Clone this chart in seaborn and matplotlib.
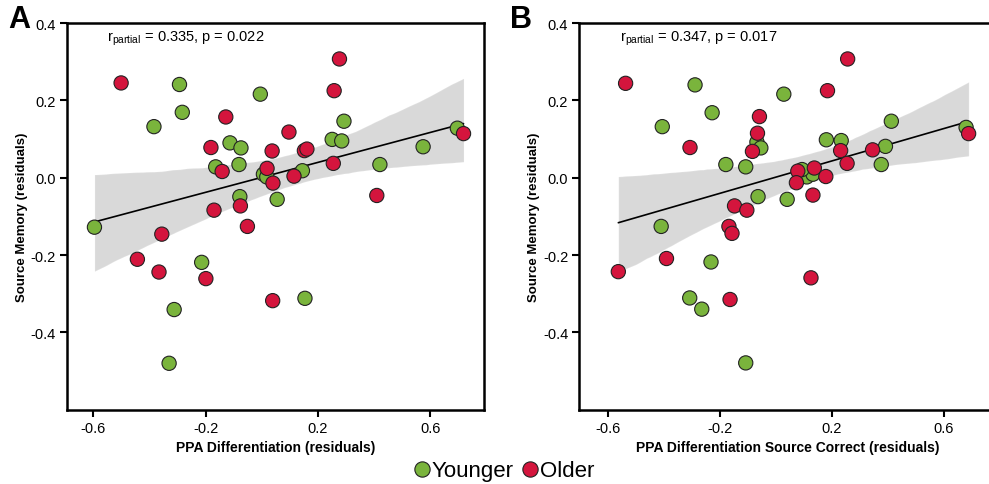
import numpy as np
import pandas as pd
import matplotlib
matplotlib.use("Agg")
import matplotlib.pyplot as plt
from matplotlib.lines import Line2D
import seaborn as sns

# ---------------- data ----------------
# Panel A: PPA Differentiation (residuals) vs Source Memory (residuals)
a_young_x = [-0.293, -0.005, -0.283, -0.384, 0.293, 0.251, 0.285, 0.697, 0.575, -0.113,
             -0.074, -0.081, -0.164, 0.006, 0.018, 0.145, 0.421, 0.055, -0.078, -0.596,
             -0.214, -0.312, 0.154, -0.330]
a_young_y = [0.241, 0.216, 0.169, 0.132, 0.146, 0.099, 0.095, 0.128, 0.080, 0.090,
             0.077, 0.034, 0.028, 0.009, 0.002, 0.018, 0.034, -0.056, -0.049, -0.128,
             -0.219, -0.341, -0.312, -0.480]
a_old_x = [-0.501, 0.277, 0.258, -0.128, 0.097, -0.181, 0.037, 0.152, 0.161, 0.255,
           -0.141, 0.019, 0.040, 0.115, 0.719, 0.410, -0.076, -0.170, -0.051, -0.356,
           -0.443, -0.366, -0.199, 0.039]
a_old_y = [0.245, 0.307, 0.225, 0.157, 0.118, 0.078, 0.069, 0.070, 0.074, 0.037,
           0.016, 0.024, -0.014, 0.004, 0.114, -0.046, -0.073, -0.084, -0.126, -0.146,
           -0.211, -0.244, -0.261, -0.318]

# Panel B: PPA Differentiation Source Correct (residuals) vs Source Memory (residuals)
b_young_x = [-0.288, 0.029, -0.227, -0.405, 0.413, 0.181, 0.234, 0.680, 0.392, -0.067,
             -0.053, -0.178, -0.107, 0.377, 0.111, 0.133, 0.094, -0.063, 0.041, -0.409,
             -0.231, -0.307, -0.264, -0.107]
b_young_y = [0.240, 0.216, 0.168, 0.132, 0.146, 0.098, 0.096, 0.130, 0.081, 0.092,
             0.077, 0.034, 0.028, 0.034, 0.002, 0.009, 0.021, -0.049, -0.056, -0.126,
             -0.218, -0.311, -0.340, -0.479]
b_old_x = [-0.536, 0.257, 0.185, -0.058, -0.065, -0.306, -0.083, 0.232, 0.346, 0.689,
           0.255, 0.079, 0.138, 0.179, 0.074, 0.133, -0.147, -0.103, -0.167, -0.156,
           -0.390, -0.562, 0.126, -0.163]
b_old_y = [0.244, 0.307, 0.225, 0.158, 0.115, 0.078, 0.068, 0.070, 0.072, 0.114,
           0.037, 0.017, 0.025, 0.003, -0.013, -0.045, -0.073, -0.084, -0.126, -0.144,
           -0.209, -0.243, -0.259, -0.315]

groups = ["Younger", "Older"]
x_ticks = [-0.6, -0.2, 0.2, 0.6]
y_ticks = [-0.4, -0.2, 0.0, 0.2, 0.4]
stats_text = ["0.335, p = 0.022", "0.347, p = 0.017"]
x_labels = ["PPA Differentiation (residuals)",
            "PPA Differentiation Source Correct (residuals)"]
y_label = "Source Memory (residuals)"
panel_letters = ["A", "B"]

GREEN = "#7ab43c"
RED = "#d4153d"
palette = {"Younger": GREEN, "Older": RED}

def make_df(yx, yy, ox, oy):
    return pd.DataFrame({
        "x": list(yx) + list(ox),
        "y": list(yy) + list(oy),
        "group": ["Younger"] * len(yx) + ["Older"] * len(ox),
    })

dfs = [make_df(a_young_x, a_young_y, a_old_x, a_old_y),
       make_df(b_young_x, b_young_y, b_old_x, b_old_y)]

sns.set_theme(style="ticks")
plt.rcParams["font.family"] = ["Liberation Sans", "DejaVu Sans"]
plt.rcParams["text.color"] = "black"
plt.rcParams["axes.labelcolor"] = "black"
plt.rcParams["xtick.color"] = "black"
plt.rcParams["ytick.color"] = "black"
plt.rcParams["xtick.labelcolor"] = "black"
plt.rcParams["ytick.labelcolor"] = "black"

fig = plt.figure(figsize=(9.89, 4.85), dpi=100)
axes = [fig.add_axes([0.0674, 0.1532, 0.422, 0.7973]),
        fig.add_axes([0.5857, 0.1532, 0.422, 0.7973])]
xlims = [(-0.695, 0.792), (-0.7015, 0.789)]

for i, (ax, df) in enumerate(zip(axes, dfs)):
    sns.regplot(data=df, x="x", y="y", ax=ax, scatter=False, ci=95, seed=3,
                n_boot=2000, color="black", line_kws={"lw": 1.2, "color": "black"})
    sns.scatterplot(data=df, x="x", y="y", hue="group", hue_order=groups,
                    palette=palette, s=105, edgecolor="#222222", linewidth=0.8,
                    ax=ax, legend=False, zorder=3)
    ax.set_xlim(*xlims[i])
    ax.set_ylim(-0.6, 0.4)
    ax.set_xticks(x_ticks)
    ax.set_xticklabels([f"{t:.1f}" for t in x_ticks])
    ax.set_yticks(y_ticks)
    ax.set_yticklabels([f"{t:.1f}" for t in y_ticks])
    for s in ax.spines.values():
        s.set_linewidth(1.8)
        s.set_color("black")
    ax.tick_params(direction="out", length=5, width=1.5, labelsize=10.5,
                   color="black", labelcolor="black", pad=3)
    ax.set_xlabel(x_labels[i], fontsize=10, fontweight="bold", labelpad=4,
                  color="black")
    ax.set_ylabel(y_label, fontsize=9.5, fontweight="bold", labelpad=2,
                  color="black")
    ax.text(0.097, 0.985, r"r$_{\mathregular{partial}}$ = " + stats_text[i],
            transform=ax.transAxes, ha="left", va="top", fontsize=10.5,
            color="black")
    fig.text([0.008, 0.516][i], 0.99, panel_letters[i], fontsize=22,
             fontweight="bold", va="top", ha="left", color="black")

handles = [Line2D([], [], marker="o", ls="", markersize=11,
                  markerfacecolor=palette[g], markeredgecolor="#222222",
                  markeredgewidth=0.8, label=g) for g in groups]
fig.legend(handles=handles, loc="center", bbox_to_anchor=(0.507, 0.027),
           ncol=2, frameon=False, fontsize=16, handletextpad=-0.15,
           columnspacing=0.15, borderaxespad=0, handlelength=1.2,
           labelcolor="black")

fig.savefig("out.png", dpi=100)
